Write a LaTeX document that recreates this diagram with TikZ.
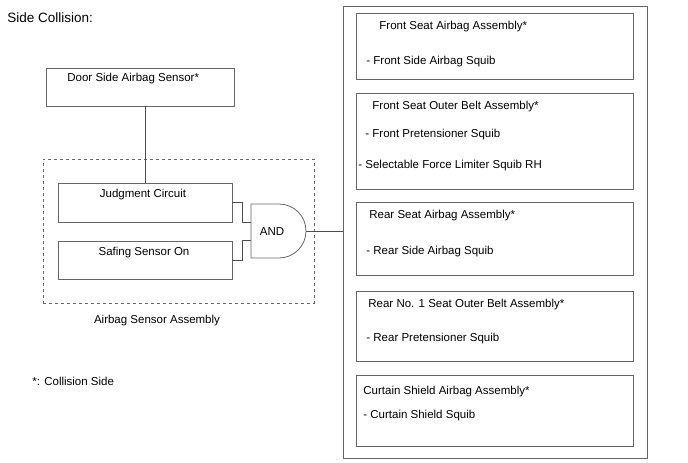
\documentclass[tikz,border=0pt]{standalone}
\usepackage{fontspec}
\setmainfont{Liberation Sans}

\begin{document}
\begin{tikzpicture}[
  x=1pt, y=-1pt, line width=0.8pt,
  box/.style={draw=black!60,inner sep=0pt},
  dashbox/.style={draw=black!60,dashed,inner sep=0pt},
  lbl/.style={anchor=west,inner sep=0pt,text height=8.5pt,text depth=0.5pt,font=\fontsize{11.5}{13}\selectfont},
  wire/.style={draw=black!70}
]
  \useasboundingbox (0,0) rectangle (688,463);
  \node[lbl,font=\fontsize{13.5}{15}\selectfont] (title) at (7,19) {Side Collision:};
  \node[box,minimum width=188pt,minimum height=38pt] (door) at (140,87) {};
  \node[lbl] (doortxt) at (67,77) {Door Side Airbag Sensor*};
  \node[dashbox,minimum width=271pt,minimum height=144pt] (sensorassy) at (178.5,231) {};
  \node[lbl,anchor=center] (sensortxt) at (157,319) {Airbag Sensor Assembly};
  \node[box,minimum width=174pt,minimum height=39pt] (judge) at (145,202.5) {};
  \node[lbl,anchor=center] (judgetxt) at (143,193) {Judgment Circuit};
  \node[box,minimum width=174pt,minimum height=38pt] (safing) at (145,260) {};
  \node[lbl,anchor=center] (safingtxt) at (144,251) {Safing Sensor On};
  \draw[box] (251,204) -- (279,204) arc (-90:90:27) -- (251,258) -- cycle;
  \node[lbl,anchor=center] (andgate) at (272,231) {AND};
  \coordinate (in1) at (251,222);
  \coordinate (in2) at (251,240);
  \coordinate (out) at (306,231);
  \node[box,minimum width=304pt,minimum height=452pt] (squibs) at (495,232) {};
  \node[box,minimum width=277pt,minimum height=66pt] (fsab) at (494.5,46) {};
  \node[lbl] (fsabt) at (379,25) {Front Seat Airbag Assembly*};
  \node[lbl] (fsabs) at (366,60) {- Front Side Airbag Squib};
  \node[box,minimum width=277pt,minimum height=96pt] (fsob) at (494.5,141) {};
  \node[lbl] (fsobt) at (372,105) {Front Seat Outer Belt Assembly*};
  \node[lbl] (fsobs) at (365,133) {- Front Pretensioner Squib};
  \node[lbl] (fsobl) at (358,164) {- Selectable Force Limiter Squib RH};
  \node[box,minimum width=277pt,minimum height=73pt] (rsab) at (494.5,238.5) {};
  \node[lbl] (rsabt) at (369,214) {Rear Seat Airbag Assembly*};
  \node[lbl] (rsabs) at (366,250) {- Rear Side Airbag Squib};
  \node[box,minimum width=277pt,minimum height=70pt] (rsob) at (494.5,326) {};
  \node[lbl] (rsobt) at (368,303) {Rear No. 1 Seat Outer Belt Assembly*};
  \node[lbl] (rsobs) at (366,337) {- Rear Pretensioner Squib};
  \node[box,minimum width=277pt,minimum height=71pt] (csab) at (494.5,410.5) {};
  \node[lbl] (csabt) at (363,390) {Curtain Shield Airbag Assembly*};
  \node[lbl] (csabs) at (363,414) {- Curtain Shield Squib};
  \node[lbl] (note) at (32,381) {*: Collision Side};
  \draw[wire] (judge.north) -- (judge.north |- door.south);
  \draw[wire] (judge.east) -- ++(10,0) |- (in1);
  \draw[wire] (safing.east) -- ++(10,0) |- (in2);
  \draw[wire] (out) -- (out -| squibs.west);
\end{tikzpicture}
\end{document}
